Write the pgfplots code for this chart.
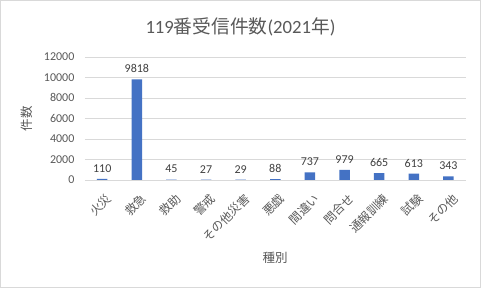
\documentclass[border=0pt]{standalone}
\usepackage{fontspec}
\setmainfont{Carlito}
\newfontfamily\jp{Noto Sans CJK JP}
\usepackage{pgfplots}
\pgfplotsset{compat=1.18}
\definecolor{textc}{HTML}{595959}
\definecolor{gridc}{HTML}{D9D9D9}
\definecolor{barc}{HTML}{4472C4}
\definecolor{labc}{HTML}{404040}
\begin{document}
\begin{tikzpicture}
\draw[draw=gridc, line width=0.75pt, fill=white] (0.5pt,0.5pt) rectangle (480.5pt,287.5pt);
\node[text=textc, font=\fontsize{18.7}{20}\selectfont] at (240.5pt,261pt) {119{\jp 番受信件数}(2021{\jp 年})};
\node[text=textc, font=\jp\fontsize{12.5}{13}\selectfont, rotate=90] at (27pt,169pt) {件数};
\node[text=textc, font=\jp\fontsize{12.5}{13}\selectfont] at (275pt,30pt) {種別};
\begin{axis}[
  at={(85pt,108pt)}, anchor=south west,
  scale only axis, width=380.6pt, height=123pt,
  xmin=-0.5, xmax=10.5, ymin=0, ymax=12000,
  ytick={0,2000,4000,6000,8000,10000,12000},
  scaled y ticks=false,
  xtick=data,
  xticklabels={火災,救急,救助,警戒,その他災害,悪戯,間違い,問合せ,通報訓練,試験,その他},
  xticklabel style={font=\jp\fontsize{12}{12}\selectfont, text=textc, xshift=3pt, yshift=-11pt, rotate=45, anchor=north east, inner sep=1pt},
  yticklabel style={font=\fontsize{12}{12}\selectfont, text=textc, xshift=-7pt},
  /pgf/number format/assume math mode=true,
  /pgf/number format/1000 sep={},
  axis line style={draw=none},
  major tick length=0pt,
  ymajorgrids, grid style={gridc, line width=0.75pt},
  ybar, bar width=10.5pt,
  nodes near coords,
  every node near coord/.append style={font=\fontsize{12}{12}\selectfont, text=labc, /pgf/number format/assume math mode=true, /pgf/number format/1000 sep={}, yshift=3pt},
  clip=false,
]
\addplot[fill=barc, draw=none] coordinates {(0,110) (1,9818) (2,45) (3,27) (4,29) (5,88) (6,737) (7,979) (8,665) (9,613) (10,343)};
\end{axis}
\end{tikzpicture}
\end{document}
